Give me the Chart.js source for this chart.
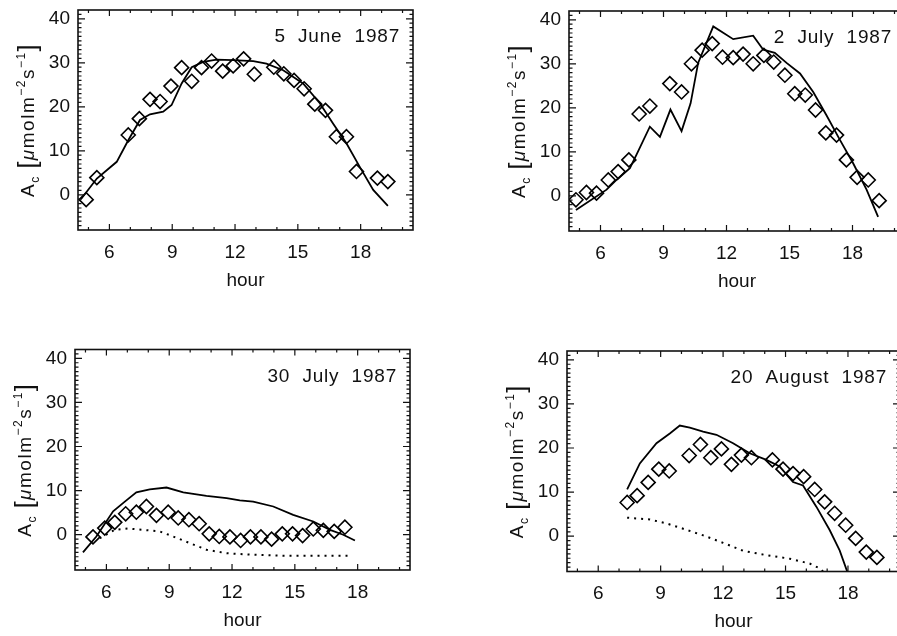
<!DOCTYPE html>
<html>
<head>
<meta charset="utf-8">
<script src="https://cdn.jsdelivr.net/npm/chart.js@4.4.0/dist/chart.umd.min.js"></script>
<style>
  html, body { margin: 0; padding: 0; background: #fff; overflow: hidden; width: 897px; height: 636px; position: relative; }
  canvas { position: absolute; }
</style>
</head>
<body>
<canvas id="c1" width="448" height="318" style="left:0;top:0"></canvas>
<canvas id="c2" width="470" height="318" style="left:448px;top:0"></canvas>
<canvas id="c3" width="448" height="318" style="left:0;top:318px"></canvas>
<canvas id="c4" width="470" height="318" style="left:448px;top:318px"></canvas>
<script>
// tick labels
const hourTicks = [6, 9, 12, 15, 18];
const valueTicks = [0, 10, 20, 30, 40];

// 5 June 1987
const june5Hours = [4.89, 5.4, 6.9, 7.43, 7.94, 8.42, 8.94, 9.45, 9.93, 10.4, 10.88, 11.41, 11.91, 12.41, 12.92, 13.85, 14.33, 14.82, 15.3, 15.81, 16.32, 16.84, 17.32, 17.8, 18.8, 19.3];
const june5Obs = [-1.1, 3.9, 13.6, 17.3, 21.7, 21.2, 24.7, 28.9, 25.8, 28.9, 30.4, 28.1, 29.3, 30.9, 27.4, 29.0, 27.5, 26.0, 24.1, 20.6, 19.2, 13.2, 13.2, 5.3, 3.8, 3.0];
const june5ModelHours = [4.64, 5.4, 6.35, 6.9, 7.46, 7.94, 8.57, 8.97, 9.45, 9.93, 10.48, 11.12, 11.91, 12.87, 13.5, 14.3, 15.25, 16.05, 16.68, 17.32, 17.95, 18.6, 19.3];
const june5Model = [-1.0, 3.7, 7.5, 12.4, 17.0, 18.3, 18.9, 20.4, 25.3, 29.0, 30.2, 30.7, 30.6, 30.4, 29.8, 28.3, 25.3, 20.8, 16.2, 11.7, 6.4, 1.1, -2.5];

// 2 July 1987
const july2Hours = [4.83, 5.33, 5.81, 6.37, 6.84, 7.35, 7.84, 8.35, 9.3, 9.86, 10.33, 10.84, 11.32, 11.81, 12.32, 12.79, 13.27, 13.78, 14.25, 14.78, 15.25, 15.75, 16.24, 16.73, 17.24, 17.71, 18.22, 18.75, 19.27];
const july2Obs = [-0.9, 0.75, 0.6, 3.6, 5.5, 8.15, 18.6, 20.4, 25.5, 23.6, 30.0, 33.1, 34.6, 31.5, 31.4, 32.2, 30.0, 31.9, 30.4, 27.4, 23.2, 22.9, 19.5, 14.3, 13.8, 8.15, 4.2, 3.6, -1.1];
const july2ModelHours = [4.83, 6.29, 6.76, 7.4, 7.71, 8.35, 8.83, 9.33, 9.86, 10.29, 10.65, 11.37, 12.32, 13.27, 13.75, 14.3, 14.86, 15.5, 16.13, 16.76, 17.4, 18.03, 18.67, 19.22];
const july2Model = [-3.2, 1.4, 3.6, 6.3, 9.3, 15.7, 13.4, 19.6, 14.7, 21.0, 30.2, 38.5, 35.6, 36.4, 33.2, 32.5, 30.2, 27.8, 23.6, 18.3, 12.7, 7.4, 1.4, -4.8];

// 30 July 1987
const july30Hours = [5.36, 5.92, 6.40, 6.92, 7.43, 7.91, 8.39, 8.95, 9.43, 9.94, 10.43, 10.91, 11.39, 11.90, 12.41, 12.88, 13.38, 13.89, 14.40, 14.89, 15.37, 15.88, 16.36, 16.88, 17.39];
const july30Obs = [-0.5, 1.5, 2.8, 4.75, 5.1, 6.4, 4.4, 5.1, 3.8, 3.4, 2.5, 0.2, -0.4, -0.5, -1.3, -0.5, -0.5, -1.0, 0.2, 0.2, -0.2, 1.3, 1.0, 0.75, 1.7];
const july30ModelHours = [4.88, 5.52, 6.32, 6.88, 7.43, 8.07, 8.87, 9.67, 10.78, 11.74, 12.37, 13.01, 13.97, 14.92, 15.88, 16.68, 17.31, 17.87];
const july30Model = [-4.0, -0.4, 5.3, 7.5, 9.6, 10.3, 10.7, 9.6, 8.8, 8.3, 7.8, 7.5, 6.4, 4.5, 3.0, 1.1, 0, -1.3];
const july30DotHours = [5.68, 6.40, 7.04, 7.75, 8.55, 9.19, 9.98, 10.78, 11.74, 12.85, 14.45, 17.63];
const july30Dot = [-0.8, 1.1, 1.4, 1.1, 0.75, -0.4, -1.9, -3.4, -4.2, -4.5, -4.75, -4.75];

// 20 August 1987
const aug20Hours = [7.39, 7.87, 8.40, 8.91, 9.41, 10.37, 10.91, 11.41, 11.92, 12.40, 12.88, 13.36, 14.37, 14.88, 15.36, 15.87, 16.40, 16.88, 17.36, 17.89, 18.37, 18.88, 19.39];
const aug20Obs = [7.65, 9.2, 12.2, 15.2, 14.8, 18.3, 20.8, 17.8, 19.8, 16.3, 18.4, 17.8, 17.3, 15.2, 14.2, 13.5, 10.6, 7.8, 5.2, 2.5, -0.5, -3.6, -4.8];
const aug20ModelHours = [7.39, 8.0, 8.8, 9.44, 9.92, 10.4, 11.04, 11.68, 12.48, 13.28, 14.08, 14.72, 15.36, 15.84, 16.48, 17.12, 17.6, 18.0];
const aug20Model = [10.6, 16.5, 21.1, 23.3, 25.1, 24.6, 23.7, 23.0, 21.1, 18.8, 17.3, 15.8, 12.3, 11.5, 6.7, 1.4, -3.2, -8.5];
const aug20DotHours = [7.39, 8.48, 9.28, 10.08, 11.04, 12.0, 12.96, 14.08, 15.2, 16.16, 16.64, 16.8];
const aug20Dot = [4.2, 3.8, 2.9, 1.7, 0.2, -1.5, -3.3, -4.3, -5.1, -6.2, -7.3, -8.0];

const FONT = '"Liberation Sans", Arial, Helvetica, sans-serif';
const X_AXIS_H = 62;

const pts = (hs, vs) => hs.map((h, i) => ({x: h, y: vs[i]}));

const obs = (hs, vs) => ({
  data: pts(hs, vs), showLine: false,
  pointStyle: 'rectRot', pointRadius: 7, pointBorderWidth: 1.6,
  pointBorderColor: '#000', pointBackgroundColor: 'rgba(0,0,0,0)'
});
const model = (hs, vs) => ({
  data: pts(hs, vs), borderColor: '#000', borderWidth: 1.8, pointRadius: 0, tension: 0
});
const dotted = (hs, vs) => ({
  data: pts(hs, vs), borderColor: '#000', borderWidth: 2, borderDash: [2, 5], pointRadius: 0, tension: 0
});

// y axis title with subscript / superscripts
function drawYTitle(ctx, x, y) {
  const parts = [
    {t: 'A', size: 19},
    {t: 'c', size: 12, dy: 5},
    {t: ' ', size: 19},
    {t: '[', size: 25, dy: 2},
    {t: 'μ', size: 19, italic: true},
    {t: 'molm', size: 19},
    {t: '−2', size: 12, dy: -9},
    {t: 's', size: 19},
    {t: '−1', size: 12, dy: -9},
    {t: ']', size: 25, dy: 2}
  ];
  ctx.save();
  ctx.letterSpacing = '1.5px';
  let total = 0;
  parts.forEach(p => {
    ctx.font = `${p.italic ? 'italic ' : ''}${p.size}px ${FONT}`;
    p.w = ctx.measureText(p.t).width;
    total += p.w;
  });
  ctx.translate(x, y);
  ctx.rotate(-Math.PI / 2);
  ctx.fillStyle = '#111';
  ctx.textBaseline = 'alphabetic';
  ctx.textAlign = 'left';
  let cx = -total / 2;
  parts.forEach(p => {
    ctx.font = `${p.italic ? 'italic ' : ''}${p.size}px ${FONT}`;
    ctx.fillText(p.t, cx, p.dy || 0);
    cx += p.w;
  });
  ctx.restore();
}

// IDL style box with inward ticks on all sides
const frame = {
  id: 'frame',
  afterDatasetsDraw(chart, args, opts) {
    const {ctx, chartArea: a} = chart;
    const x = chart.scales.x, y = chart.scales.y;
    ctx.save();
    ctx.strokeStyle = '#111';
    ctx.lineWidth = 1.6;
    ctx.strokeRect(a.left, a.top, a.right - a.left, a.bottom - a.top);
    ctx.lineWidth = 1.2;
    ctx.beginPath();
    for (let h = 5; h <= 20; h++) {
      const px = x.getPixelForValue(h);
      const len = h % 3 === 0 ? 6 : 3;
      ctx.moveTo(px, a.bottom); ctx.lineTo(px, a.bottom - len);
      ctx.moveTo(px, a.top); ctx.lineTo(px, a.top + len);
    }
    for (let v = -7; v <= 41; v++) {
      const py = y.getPixelForValue(v);
      const len = v % 10 === 0 ? 7 : 3.5;
      ctx.moveTo(a.left, py); ctx.lineTo(a.left + len, py);
      ctx.moveTo(a.right, py); ctx.lineTo(a.right - len, py);
    }
    ctx.stroke();

    ctx.fillStyle = '#111';
    ctx.font = `19px ${FONT}`;
    ctx.letterSpacing = '0.8px';
    ctx.textAlign = 'right';
    ctx.textBaseline = 'alphabetic';
    ctx.fillText(opts.date, a.right - 13, a.top + 32);
    ctx.restore();

    drawYTitle(ctx, a.left - 44, (a.top + a.bottom) / 2);
  }
};

function zeroPad(s) {
  s.paddingLeft = 0; s.paddingRight = 0; s.paddingTop = 0; s.paddingBottom = 0;
}

function panel(id, rect, area, date, datasets) {
  const pad = {
    left: 0,
    top: area.top - rect.top,
    right: rect.left + rect.width - area.right,
    bottom: rect.top + rect.height - area.bottom - X_AXIS_H
  };
  const tickFont = {family: FONT, size: 19};
  return new Chart(document.getElementById(id), {
    type: 'line',
    data: {datasets},
    options: {
      responsive: false,
      animation: false,
      layout: {padding: pad},
      plugins: {legend: {display: false}, tooltip: {enabled: false}, frame: {date}},
      scales: {
        x: {
          type: 'linear', min: 4.5, max: 20.5,
          afterBuildTicks: s => { s.ticks = hourTicks.map(v => ({value: v})); },
          afterFit: s => { s.height = X_AXIS_H; zeroPad(s); },
          grid: {display: false, drawTicks: false},
          border: {display: false},
          ticks: {padding: 11, color: '#111', font: tickFont, maxRotation: 0, autoSkip: false},
          title: {display: true, text: 'hour', color: '#111', font: tickFont, padding: {top: 0, bottom: 0}}
        },
        y: {
          type: 'linear', min: -8, max: 42,
          afterBuildTicks: s => { s.ticks = valueTicks.map(v => ({value: v})); },
          afterFit: s => { s.width = area.left - rect.left; zeroPad(s); },
          grid: {display: false, drawTicks: false},
          border: {display: false},
          ticks: {padding: 8, color: '#111', font: tickFont, autoSkip: false}
        }
      }
    },
    plugins: [frame]
  });
}

panel('c1', {left: 0, top: 0, width: 448, height: 318}, {left: 78, top: 10, right: 413, bottom: 230},
  '5  June  1987', [obs(june5Hours, june5Obs), model(june5ModelHours, june5Model)]);
panel('c2', {left: 448, top: 0, width: 470, height: 318}, {left: 569, top: 11, right: 905, bottom: 231},
  '2  July  1987', [obs(july2Hours, july2Obs), model(july2ModelHours, july2Model)]);
panel('c3', {left: 0, top: 318, width: 448, height: 318}, {left: 75, top: 349.5, right: 410, bottom: 570},
  '30  July  1987', [obs(july30Hours, july30Obs), model(july30ModelHours, july30Model), dotted(july30DotHours, july30Dot)]);
panel('c4', {left: 448, top: 318, width: 470, height: 318}, {left: 567, top: 351, right: 900, bottom: 571.5},
  '20  August  1987', [obs(aug20Hours, aug20Obs), model(aug20ModelHours, aug20Model), dotted(aug20DotHours, aug20Dot)]);
</script>
</body>
</html>
